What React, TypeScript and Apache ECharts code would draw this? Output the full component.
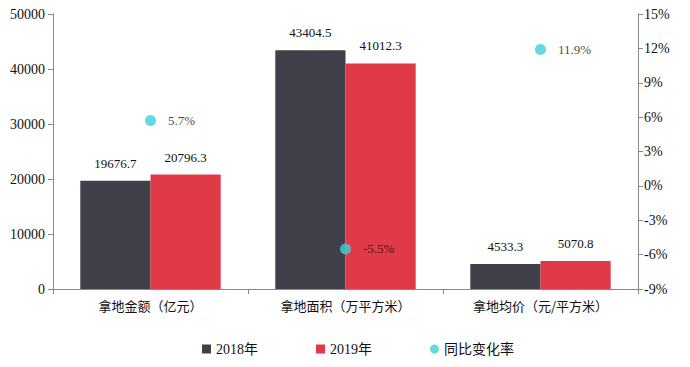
import React, { useEffect, useRef } from "react";
import * as echarts from "echarts";

const categories = ["拿地金额（亿元）", "拿地面积（万平方米）", "拿地均价（元/平方米）"];
const values2018 = [19676.7, 43404.5, 4533.3];
const values2019 = [20796.3, 41012.3, 5070.8];
const yoyChange = [5.7, -5.5, 11.9];
const seriesNames = ["2018年", "2019年", "同比变化率"];

const FONT = "'Liberation Serif', 'Noto Sans CJK SC', serif";

export default function App() {
  const ref = useRef<HTMLDivElement>(null);
  useEffect(() => {
    if (!ref.current) return;
    const chart = echarts.init(ref.current, undefined, { renderer: "svg" });
    const axisLine = { show: true, lineStyle: { color: "#888888", width: 1 } };
    chart.setOption({
      animation: false,
      textStyle: { fontFamily: FONT },
      grid: { left: 53, right: 52, top: 14, bottom: 78 },
      legend: {
        top: 342,
        left: 202,
        padding: 0,
        itemWidth: 9,
        itemHeight: 9,
        itemGap: 58,
        textStyle: { fontFamily: FONT, fontSize: 14, color: "#111" },
        data: [
          { name: seriesNames[0], icon: "rect" },
          { name: seriesNames[1], icon: "rect" },
          { name: seriesNames[2], icon: "circle" },
        ],
      },
      xAxis: {
        type: "category",
        data: categories,
        axisLine,
        axisTick: { show: true, alignWithLabel: false, length: 5, lineStyle: { color: "#888" } },
        axisLabel: {
          fontFamily: "'Noto Sans CJK SC', sans-serif",
          fontSize: 13,
          color: "#111",
          margin: 10,
        },
      },
      yAxis: [
        {
          type: "value",
          min: 0,
          max: 50000,
          interval: 10000,
          axisLine,
          axisTick: { show: true, length: 5, lineStyle: { color: "#888" } },
          splitLine: { show: false },
          axisLabel: { fontFamily: FONT, fontSize: 14, color: "#111", margin: 8, formatter: (v: number) => String(v) },
        },
        {
          type: "value",
          min: -9,
          max: 15,
          interval: 3,
          axisLine,
          axisTick: { show: true, length: 5, lineStyle: { color: "#888" } },
          splitLine: { show: false },
          axisLabel: { fontFamily: FONT, fontSize: 14, color: "#111", margin: 6, formatter: "{value}%" },
        },
      ],
      series: [
        {
          name: seriesNames[0],
          type: "bar",
          data: values2018,
          barGap: "0%",
          barCategoryGap: "28%",
          itemStyle: { color: "#3F4049" },
          label: { show: true, position: "top", distance: 11, fontFamily: FONT, fontSize: 13, color: "#111" },
        },
        {
          name: seriesNames[1],
          type: "bar",
          data: values2019,
          barGap: "0%",
          barCategoryGap: "28%",
          itemStyle: { color: "#E03A49" },
          label: { show: true, position: "top", distance: 11, fontFamily: FONT, fontSize: 13, color: "#111" },
        },
        {
          name: seriesNames[2],
          type: "scatter",
          yAxisIndex: 1,
          data: yoyChange,
          symbolSize: 11,
          itemStyle: { color: "#3ECFD9" },
          label: {
            show: true,
            position: "right",
            distance: 12,
            fontFamily: FONT,
            fontSize: 13,
            color: "#111",
            formatter: (p: any) => p.value + "%",
          },
        },
      ],
    });
    return () => chart.dispose();
  }, []);
  return <div ref={ref} style={{ width: 690, height: 367, margin: -8 }} />;
}
